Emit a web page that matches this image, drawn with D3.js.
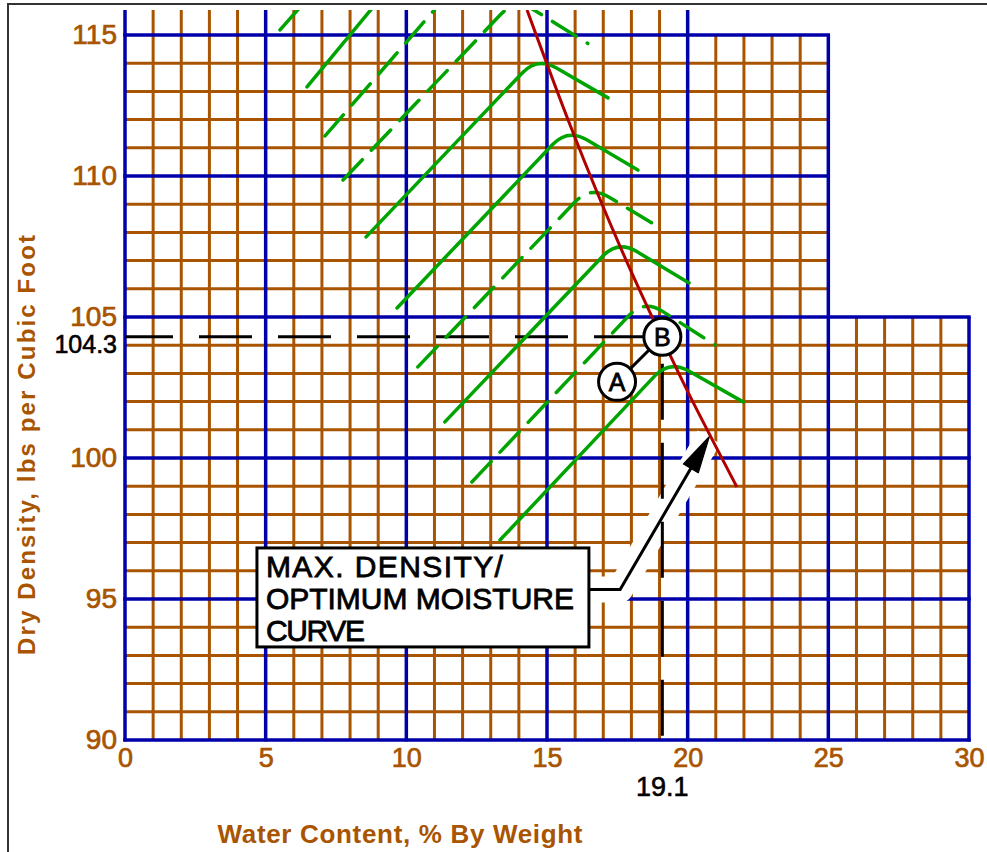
<!DOCTYPE html>
<html><head><meta charset="utf-8">
<script src="https://cdn.jsdelivr.net/npm/d3@7"></script>
<style>body{margin:0;background:#fff}svg{display:block}</style>
</head><body><svg id="c" width="987" height="852"></svg>
<script>
// ---- data ----
const xTicks = [0, 5, 10, 15, 20, 25, 30];
const yTicks = [90, 95, 100, 105, 110, 115];
// compaction curves (water content %, dry density pcf): start of rising branch, apex, end of falling branch
const curveStart = [[5.51,115.18],[6.47,113.16],[7.11,111.42],[7.75,109.86],[8.57,107.84],[9.67,105.32],[10.41,103.23],[11.37,101.28],[12.33,99.15],[13.33,97.09]];
const curveApex  = [[11.2,121.6],[12.26,120.14],[13.15,118.37],[13.89,116.29],[14.66,114.22],[15.74,111.68],[16.54,109.65],[17.52,107.72],[18.45,105.62],[19.36,103.47]];
const curveEnd   = [[13.5,120.5],[14.5,119.0],[15.46,116.95],[16.45,114.7],[17.17,112.77],[18.23,110.21],[19.09,108.12],[20.05,106.21],[20.97,104.01],[21.97,101.99]];
const curveDashed = [false,false,true,true,false,false,true,false,true,false];
// max density / optimum moisture curve
const optimumX = [14.29, 15.89, 17.65, 19.07, 20.15, 21.75];
const optimumY = [115.89, 111.63, 107.38, 104.29, 102.06, 98.97];
const maxDensity = 104.3, optMoisture = 19.1;
const pointA = [17.49, 102.7];
const arrowTip = [20.76, 100.74];
const boxLines = ["MAX. DENSITY/", "OPTIMUM MOISTURE", "CURVE"];

// ---- setup ----
const W = 987, H = 852;
const svg = d3.select('#c');
const x = d3.scaleLinear().domain([0, 30]).range([125, 969]);
const y = d3.scaleLinear().domain([90, 115]).range([740, 35]);
const BROWN = '#a85400', BLUE = '#0000aa', GREEN = '#00a400', RED = '#b00000';
const FONT = 'Liberation Sans, Arial, sans-serif';
const topPx = 10;

svg.append('defs').append('clipPath').attr('id', 'clip')
  .append('rect').attr('x', 0).attr('y', topPx).attr('width', W).attr('height', H);

// frame
svg.append('path').attr('d', `M8,${H + 5}V4H${W + 5}`).attr('fill', 'none')
  .attr('stroke', '#333').attr('stroke-width', 2);

// ---- grid ----
const grid = svg.append('g');
const vTop = v => v <= 20 ? topPx : (v <= 25 ? y(115) : y(105));
const hRight = v => v > 105 ? x(25) : x(30);
const vAll = d3.range(0, 31), hAll = d3.range(90, 116);
grid.selectAll('line.vb').data(vAll.filter(v => v % 5)).join('line').attr('class', 'vb')
  .attr('x1', d => x(d)).attr('x2', d => x(d)).attr('y1', y(90)).attr('y2', vTop)
  .attr('stroke', BROWN).attr('stroke-width', 3);
grid.selectAll('line.hb').data(hAll.filter(v => v % 5)).join('line').attr('class', 'hb')
  .attr('x1', x(0)).attr('x2', hRight).attr('y1', d => y(d)).attr('y2', d => y(d))
  .attr('stroke', BROWN).attr('stroke-width', 3);
grid.selectAll('line.vB').data(vAll.filter(v => v % 5 === 0)).join('line').attr('class', 'vB')
  .attr('x1', d => x(d)).attr('x2', d => x(d)).attr('y1', y(90) + 1.5).attr('y2', vTop)
  .attr('stroke', BLUE).attr('stroke-width', 3.5);
grid.selectAll('line.hB').data(hAll.filter(v => v % 5 === 0)).join('line').attr('class', 'hB')
  .attr('x1', x(0) - 1.7).attr('x2', d => hRight(d) + 1.7).attr('y1', d => y(d)).attr('y2', d => y(d))
  .attr('stroke', BLUE).attr('stroke-width', 3.5);

// ---- axes labels ----
const ax = svg.append('g').attr('transform', `translate(0,${y(90)})`)
  .call(d3.axisBottom(x).tickValues(xTicks).tickSize(0).tickPadding(8));
ax.select('.domain').remove();
ax.attr('font-size', 27).attr('font-family', FONT);
ax.selectAll('text').attr('fill', BROWN).attr('stroke', BROWN).attr('stroke-width', 0.7);
const ay = svg.append('g').attr('transform', `translate(${x(0)},0)`)
  .call(d3.axisLeft(y).tickValues(yTicks).tickSize(0).tickPadding(8));
ay.select('.domain').remove();
ay.attr('font-size', 28).attr('font-family', FONT);
ay.selectAll('text').attr('fill', BROWN).attr('stroke', BROWN).attr('stroke-width', 0.7);

svg.append('text').attr('x', x(0) - 8).attr('y', y(maxDensity) + 16).attr('text-anchor', 'end')
  .attr('font-family', FONT).attr('font-size', 25).attr('fill', '#000')
  .attr('stroke', '#000').attr('stroke-width', 0.6).text(maxDensity);
svg.append('text').attr('x', x(optMoisture)).attr('y', 796).attr('text-anchor', 'middle')
  .attr('font-family', FONT).attr('font-size', 27).attr('fill', '#000')
  .attr('stroke', '#000').attr('stroke-width', 0.6).text(optMoisture);

svg.append('text').attr('transform', `translate(35,445) rotate(-90)`).attr('text-anchor', 'middle')
  .attr('font-family', FONT).attr('font-size', 24).attr('font-weight', 'bold').attr('fill', BROWN)
  .attr('textLength', 420).attr('lengthAdjust', 'spacing')
  .text('Dry Density, lbs per Cubic Foot');
svg.append('text').attr('x', 400).attr('y', 843).attr('text-anchor', 'middle')
  .attr('font-family', FONT).attr('font-size', 26).attr('font-weight', 'bold').attr('fill', BROWN)
  .attr('textLength', 365).attr('lengthAdjust', 'spacing')
  .text('Water Content, % By Weight');

// ---- leader halo (white) ----
const bx0 = x(4.69), bx1 = x(16.49), by0 = y(96.81), by1 = y(93.3);
const legY = (by0 + by1) / 2 - 8;
const corner = [x(17.6), legY];
const tip = [x(arrowTip[0]), y(arrowTip[1])];
svg.append('path').attr('d', d3.line()([[bx1, legY], corner, tip]))
  .attr('fill', 'none').attr('stroke', '#fff').attr('stroke-width', 26).attr('stroke-linejoin', 'round');

// ---- dashed reference lines ----
svg.append('line').attr('x1', x(0)).attr('x2', x(optMoisture)).attr('y1', y(maxDensity)).attr('y2', y(maxDensity))
  .attr('stroke', '#000').attr('stroke-width', 3).attr('stroke-dasharray', '53,26').attr('stroke-dashoffset', 5);
svg.append('line').attr('x1', x(optMoisture)).attr('x2', x(optMoisture)).attr('y1', y(maxDensity)).attr('y2', y(90))
  .attr('stroke', '#000').attr('stroke-width', 3).attr('stroke-dasharray', '56,23').attr('stroke-dashoffset', 52);

// ---- compaction curves ----
const cg = svg.append('g').attr('clip-path', 'url(#clip)');
const R = 22;
curveStart.forEach((s, i) => {
  const L = [x(s[0]), y(s[1])], P = [x(curveApex[i][0]), y(curveApex[i][1])], E = [x(curveEnd[i][0]), y(curveEnd[i][1])];
  const uL = [L[0] - P[0], L[1] - P[1]], dL = Math.hypot(...uL);
  const uR = [E[0] - P[0], E[1] - P[1]], dR = Math.hypot(...uR);
  const s1 = [P[0] + uL[0] / dL * R, P[1] + uL[1] / dL * R];
  const s2 = [P[0] + uR[0] / dR * R, P[1] + uR[1] / dR * R];
  const p = d3.path();
  p.moveTo(...L); p.lineTo(...s1); p.quadraticCurveTo(P[0], P[1], s2[0], s2[1]); p.lineTo(...E);
  cg.append('path').attr('d', p.toString()).attr('fill', 'none').attr('stroke', GREEN)
    .attr('stroke-width', 3.5).attr('stroke-linecap', 'round')
    .attr('stroke-dasharray', curveDashed[i] ? '28,13' : null);
});

// ---- optimum curve ----
cg.append('path').datum(optimumX.map((v, i) => [v, optimumY[i]]))
  .attr('d', d3.line().x(d => x(d[0])).y(d => y(d[1])).curve(d3.curveNatural))
  .attr('fill', 'none').attr('stroke', RED).attr('stroke-width', 3);

// ---- points A and B ----
const B = [x(optMoisture), y(maxDensity)], A = [x(pointA[0]), y(pointA[1])];
svg.append('line').attr('x1', A[0]).attr('y1', A[1]).attr('x2', B[0]).attr('y2', B[1])
  .attr('stroke', '#000').attr('stroke-width', 3);
[[A, 'A'], [B, 'B']].forEach(([c, t]) => {
  svg.append('circle').attr('cx', c[0]).attr('cy', c[1]).attr('r', 18.5)
    .attr('fill', '#fff').attr('stroke', '#000').attr('stroke-width', 3);
  svg.append('text').attr('x', c[0]).attr('y', c[1] + 9).attr('text-anchor', 'middle')
    .attr('font-family', FONT).attr('font-size', 25).attr('fill', '#000')
    .attr('stroke', '#000').attr('stroke-width', 0.8).text(t);
});

// ---- leader + arrow ----
const ang = Math.atan2(tip[1] - corner[1], tip[0] - corner[0]);
const hl = 36, hw = 8.5;
const base = [tip[0] - hl * Math.cos(ang), tip[1] - hl * Math.sin(ang)];
svg.append('path').attr('d', d3.line()([[bx1, legY], corner, base]))
  .attr('fill', 'none').attr('stroke', '#000').attr('stroke-width', 3);
svg.append('path').attr('d', d3.line()([tip,
  [base[0] + hw * Math.sin(ang), base[1] - hw * Math.cos(ang)],
  [base[0] - hw * Math.sin(ang), base[1] + hw * Math.cos(ang)]]) + 'Z')
  .attr('fill', '#000').attr('stroke', '#000').attr('stroke-width', 1.5).attr('stroke-linejoin', 'round');

// ---- label box ----
svg.append('rect').attr('x', bx0).attr('y', by0).attr('width', bx1 - bx0).attr('height', by1 - by0)
  .attr('fill', '#fff').attr('stroke', '#000').attr('stroke-width', 3);
const lens = [237, 308, 99];
svg.append('g').selectAll('text').data(boxLines).join('text')
  .attr('x', bx0 + 9).attr('y', (d, i) => by0 + 29 + i * 32)
  .attr('font-family', FONT).attr('font-size', 30).attr('fill', '#000')
  .attr('stroke', '#000').attr('stroke-width', 0.8)
  .attr('textLength', (d, i) => lens[i]).attr('lengthAdjust', 'spacing')
  .text(d => d);
</script>
</body></html>
